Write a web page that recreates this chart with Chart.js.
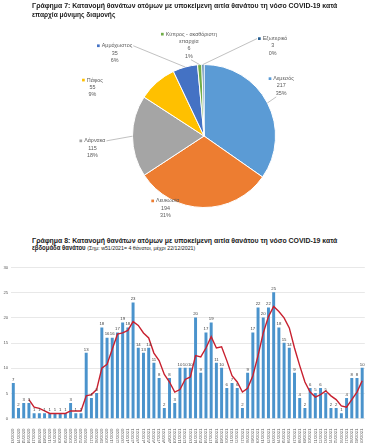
<!DOCTYPE html>
<html lang="el">
<head>
<meta charset="utf-8">
<script src="https://cdn.jsdelivr.net/npm/chart.js@4.4.1/dist/chart.umd.min.js"></script>
<style>
html,body{margin:0;padding:0;background:#fff;}
body{position:relative;width:375px;height:443px;overflow:hidden;font-family:"Liberation Sans",Arial,sans-serif;}
canvas{position:absolute;left:0;}
#pie{top:0;}
#bar{top:254px;}
.t{position:absolute;left:31.7px;white-space:nowrap;transform-origin:0 50%;color:#1a1a1a;font-weight:bold;font-size:6.6px;line-height:1;}
.t .n{font-weight:normal;font-size:5.8px;}
</style>
</head>
<body>
<canvas id="pie" width="375" height="230"></canvas>
<canvas id="bar" width="375" height="195"></canvas>
<div class="t" id="t7a" style="top:3.4px">Γράφημα 7: Κατανομή θανάτων ατόμων με υποκείμενη αιτία θανάτου τη νόσο COVID-19 κατά</div>
<div class="t" id="t7b" style="top:12.4px">επαρχία μόνιμης διαμονής</div>
<div class="t" id="t8a" style="top:237.7px">Γράφημα 8: Κατανομή θανάτων ατόμων με υποκείμενη αιτία θανάτου τη νόσο COVID-19 κατά</div>
<div class="t" id="t8b" style="top:245.4px">εβδομάδα θανάτου <span class="n">(Σημ: w51/2021= 4 θάνατοι, μέχρι 22/12/2021)</span></div>
<script>
// ---------- data: chart 7 (pie) ----------
const provinces = ['Λεμεσός', 'Λευκωσία', 'Λάρνακα', 'Πάφος', 'Αμμόχωστος', 'Κύπρος - ακαθόριστη\nεπαρχία', 'Εξωτερικό'];
const provinceDeaths = [217, 194, 115, 55, 35, 6, 3];

// ---------- data: chart 8 (bars + moving average line) ----------
const weeks = [
  'w13/2020','w14/2020','w15/2020','w16/2020','w17/2020','w18/2020','w19/2020','w21/2020','w24/2020','w30/2020',
  'w35/2020','w40/2020','w43/2020','w45/2020','w46/2020','w47/2020','w48/2020','w49/2020','w50/2020','w51/2020',
  'w52/2020','w53/2020','w1/2021','w2/2021','w3/2021','w4/2021','w5/2021','w6/2021','w7/2021','w8/2021',
  'w9/2021','w10/2021','w11/2021','w12/2021','w13/2021','w14/2021','w15/2021','w16/2021','w17/2021','w18/2021',
  'w19/2021','w20/2021','w21/2021','w22/2021','w27/2021','w28/2021','w29/2021','w30/2021','w31/2021','w32/2021',
  'w33/2021','w34/2021','w35/2021','w36/2021','w37/2021','w38/2021','w39/2021','w40/2021','w41/2021','w42/2021',
  'w43/2021','w44/2021','w45/2021','w46/2021','w47/2021','w48/2021','w49/2021','w50/2021'
];
const weeklyDeaths = [
  7, 2, 3, 3, 1, 1, 1, 1, 1, 1,
  1, 3, 1, 1, 13, 4, 5, 18, 16, 16,
  17, 19, 18, 23, 14, 13, 14, 11, 8, 2,
  8, 3, 10, 10, 10, 20, 9, 17, 19, 11,
  10, 6, 7, 6, 2, 9, 17, 22, 20, 22,
  25, 18, 15, 14, 9, 4, 2, 6, 5, 6,
  5, 2, 2, 1, 4, 8, 8, 10
];
const movingAverage = [
  null, null, null, 3.75, 2.25, 2, 1.5, 1, 1, 1,
  1, 1.5, 1.5, 1.5, 4.5, 4.75, 5.75, 10, 10.75, 13.75,
  16.75, 17, 17.5, 19.25, 18.5, 17, 16, 13, 11.5, 8.75,
  7.25, 5.25, 5.75, 7.75, 8.25, 12.5, 12.25, 14, 16.25, 14,
  14.25, 11.5, 8.5, 7.25, 5.25, 6, 8.5, 12.5, 17, 20.25,
  22.25, 21.25, 20, 18, 14, 10.5, 7.25, 5.25, 4.25, 4.75,
  5.5, 4.5, 3.75, 2.5, 2.25, 3.75, 5.25, 7.5
];
const yTicks = {min: 0, max: 30, step: 5};

// ---------- styles ----------
const FONT = '"Liberation Sans", Arial, sans-serif';
const sliceColors = ['#5B9BD5', '#ED7D31', '#A5A5A5', '#FFC000', '#4472C4', '#70AD47', '#255E91'];
const textGrey = '#595959';

// pie label layout (offset of the value line from pie centre, in radii) and leader lines
const pieLabelStyle = {
  size: 5.4, lh: 7.3, key: 2.7, gap: 2,
  place: [[1.08, -0.70], [-0.54, 1.01], [-1.56, 0.17], [-1.56, -0.68], [-1.25, -1.16], [-0.21, -1.22], [0.96, -1.26]],
  leader: ['bottom', '', 'right', '', 'right', 'bottom', 'left'],
  leaderDx: [-5, 0, 0, 0, 0, 2, 0]
};

Chart.defaults.font.family = FONT;
Chart.defaults.animation = false;

// fit titles to the width they take in the reference
function fitWidth(id, w) {
  const el = document.getElementById(id);
  const cur = el.getBoundingClientRect().width;
  el.style.transform = 'scaleX(' + (w / cur) + ')';
}
fitWidth('t7a', 305.3);
fitWidth('t7b', 83.3);
fitWidth('t8a', 305.3);
fitWidth('t8b', 163.3);

// ---------- pie label plugin ----------
const pieLabels = {
  id: 'pieLabels',
  afterDatasetsDraw(chart) {
    const o = pieLabelStyle;
    const ctx = chart.ctx;
    const meta = chart.getDatasetMeta(0);
    const data = chart.data.datasets[0].data;
    const total = data.reduce((a, b) => a + b, 0);
    ctx.save();
    ctx.font = o.size + 'px ' + FONT;
    ctx.textBaseline = 'middle';
    meta.data.forEach((arc, i) => {
      const r = arc.outerRadius;
      const ax = arc.x + o.place[i][0] * r;
      const ay = arc.y + o.place[i][1] * r;
      const nameLines = chart.data.labels[i].split('\n');
      const lines = nameLines.concat([String(data[i]), Math.round(data[i] / total * 100) + '%']);
      const vi = nameLines.length;
      let firstW = 0;
      lines.forEach((txt, k) => {
        const y = ay + (k - vi) * o.lh;
        const w = ctx.measureText(txt).width;
        if (k === 0) {
          const full = o.key + o.gap + w;
          firstW = full;
          const x0 = ax - full / 2;
          ctx.fillStyle = sliceColors[i];
          ctx.fillRect(x0, y - o.key / 2, o.key, o.key);
          ctx.fillStyle = textGrey;
          ctx.textAlign = 'left';
          ctx.fillText(txt, x0 + o.key + o.gap, y);
        } else {
          ctx.fillStyle = textGrey;
          ctx.textAlign = 'center';
          ctx.fillText(txt, ax, y);
        }
      });
      const side = o.leader[i];
      if (side) {
        const mid = (arc.startAngle + arc.endAngle) / 2;
        const ex = arc.x + Math.cos(mid) * r;
        const ey = arc.y + Math.sin(mid) * r;
        let sx, sy;
        const y0 = ay - vi * o.lh;
        if (side === 'right') { sx = ax + firstW / 2 + 1; sy = y0; }
        else if (side === 'left') { sx = ax - firstW / 2 - 1; sy = y0; }
        else { sx = ax + o.leaderDx[i]; sy = ay + 1.5 * o.lh; }
        ctx.strokeStyle = '#a6a6a6';
        ctx.lineWidth = 0.7;
        ctx.beginPath();
        ctx.moveTo(sx, sy);
        ctx.lineTo(ex, ey);
        ctx.stroke();
      }
    });
    ctx.restore();
  }
};

new Chart(document.getElementById('pie'), {
  type: 'pie',
  data: {
    labels: provinces,
    datasets: [{
      data: provinceDeaths,
      backgroundColor: sliceColors,
      borderColor: '#ffffff',
      borderWidth: 1
    }]
  },
  options: {
    responsive: false,
    layout: {padding: {left: 132, right: 99, top: 64, bottom: 22}},
    plugins: {legend: {display: false}, tooltip: {enabled: false}}
  },
  plugins: [pieLabels]
});

// ---------- bar value labels ----------
const barValues = {
  id: 'barValues',
  afterDatasetsDraw(chart) {
    const ctx = chart.ctx;
    const meta = chart.getDatasetMeta(1);
    const data = chart.data.datasets[1].data;
    ctx.save();
    ctx.font = '4.3px ' + FONT;
    ctx.fillStyle = '#404040';
    ctx.textAlign = 'center';
    ctx.textBaseline = 'bottom';
    meta.data.forEach((el, i) => {
      ctx.fillText(String(data[i]), el.x, el.y - 1.5);
    });
    ctx.restore();
  }
};

new Chart(document.getElementById('bar'), {
  type: 'bar',
  data: {
    labels: weeks,
    datasets: [
      {
        type: 'line',
        data: movingAverage,
        borderColor: '#C8202F',
        borderWidth: 1.4,
        pointRadius: 0,
        tension: 0,
        spanGaps: false,
        order: 0
      },
      {
        type: 'bar',
        data: weeklyDeaths,
        backgroundColor: '#4A93CC',
        barThickness: 2.3,
        order: 1
      }
    ]
  },
  options: {
    responsive: false,
    layout: {padding: {left: 0, right: 10.2, top: 13.5, bottom: 0}},
    plugins: {legend: {display: false}, tooltip: {enabled: false}},
    scales: {
      x: {
        grid: {display: false},
        border: {display: false},
        ticks: {autoSkip: false, maxRotation: 90, minRotation: 90, font: {size: 4.3}, color: textGrey, padding: 2},
        afterFit(s) { s.height = 30.5; }
      },
      y: {
        min: yTicks.min,
        max: yTicks.max,
        grid: {color: '#d9d9d9', lineWidth: 0.6, drawTicks: false},
        border: {display: false},
        ticks: {stepSize: yTicks.step, font: {size: 4.3}, color: textGrey, padding: 2.5},
        afterFit(s) { s.width = 10.7; }
      }
    }
  },
  plugins: [barValues]
});
</script>
</body>
</html>
